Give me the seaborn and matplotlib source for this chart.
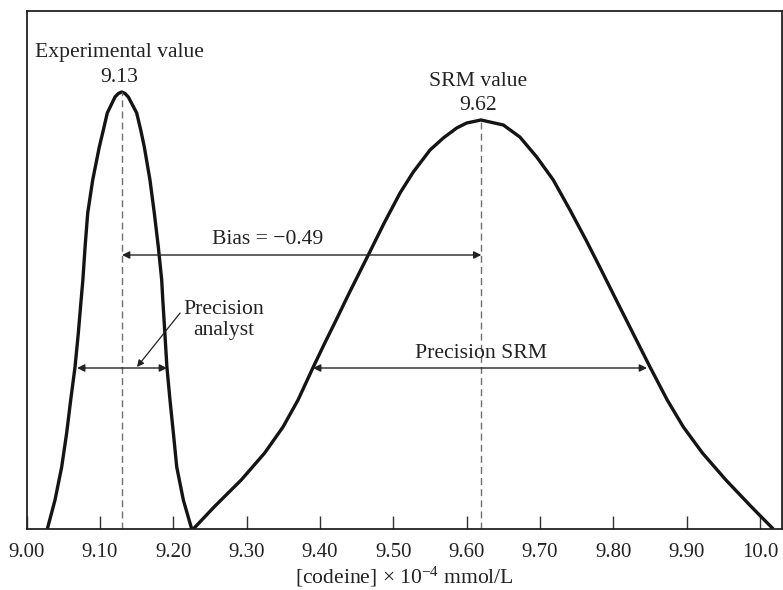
import numpy as np
import pandas as pd
import matplotlib
matplotlib.use("Agg")
import matplotlib.pyplot as plt
import seaborn as sns

# ---- data ----
exp_value = 9.13
srm_value = 9.62
bias = -0.49

exp_x = [9.0281, 9.0386, 9.0477, 9.0545, 9.0600, 9.0659, 9.0704, 9.0742, 9.0766,
         9.0796, 9.0832, 9.0900, 9.0990, 9.1045, 9.1099, 9.1204, 9.1250, 9.1296,
         9.1341, 9.1386, 9.1500, 9.1555, 9.1604, 9.1681, 9.1740, 9.1795, 9.1841,
         9.1856, 9.1884, 9.1912, 9.1954, 9.2000, 9.2046, 9.2136, 9.2250]
exp_y = [0, 29, 62, 96, 129, 162, 196, 229, 249,
         282, 316, 349, 382, 399, 416, 432, 435.5, 437,
         435.5, 432, 416, 399, 382, 349, 316, 282, 249,
         229, 196, 162, 129, 96, 62, 29, 0]

srm_x = [9.2272, 9.2555, 9.2925, 9.3245, 9.3495, 9.3700, 9.3908, 9.4065, 9.4220,
         9.4405, 9.4658, 9.4875, 9.5091, 9.5272, 9.5500, 9.5681, 9.5864, 9.6000,
         9.6195, 9.6500, 9.6725, 9.6955, 9.7181, 9.7409, 9.7627, 9.7835, 9.8060,
         9.8225, 9.8500, 9.8735, 9.8955, 9.9215, 9.9535, 9.9885, 10.0181]
srm_y = [0, 22, 49, 76, 102, 129, 162, 186, 209,
         237, 274, 306, 336, 357, 379, 391, 401, 406,
         409, 404, 392, 372, 349, 319, 289, 259, 226,
         202, 162, 129, 102, 76, 49, 22, 0]

tick_vals = [9.00, 9.10, 9.20, 9.30, 9.40, 9.50, 9.60, 9.70, 9.80, 9.90, 10.0]
tick_labels = ["9.00", "9.10", "9.20", "9.30", "9.40", "9.50", "9.60", "9.70",
               "9.80", "9.90", "10.0"]

prec_analyst = (9.0687, 9.1913)
prec_srm = (9.3905, 9.8459)

# ---- styling ----
sns.set_theme(style="white")
plt.rcParams['font.family'] = ['Liberation Serif', 'DejaVu Serif']
plt.rcParams['mathtext.default'] = 'regular'

fig = plt.figure(figsize=(7.83, 5.90), dpi=100)
ax = fig.add_axes([26.7 / 783, 61 / 590, (782 - 26.7) / 783, 518 / 590])

df_exp = pd.DataFrame({"x": exp_x, "y": exp_y})
df_srm = pd.DataFrame({"x": srm_x, "y": srm_y})
for d in (df_exp, df_srm):
    sns.lineplot(data=d, x="x", y="y", sort=False, estimator=None,
                 color="#141414", linewidth=2.4, ax=ax,
                 solid_joinstyle="round", solid_capstyle="butt")

ax.set_xlim(9.0, 10.03)
ax.set_ylim(0, 518)

# dashed centre lines
dash_kw = dict(color="#707070", linewidth=1.0, linestyle=(0, (5, 3)))
ax.plot([exp_value, exp_value], [0, max(exp_y)], **dash_kw)
ax.plot([srm_value, srm_value], [0, max(srm_y)], **dash_kw)

fs = 15.6
tc = "#222222"
ax.text(9.127, 476, "Experimental value", ha="center", va="center", fontsize=fs, color=tc)
ax.text(9.126, 451, f"{exp_value:.2f}", ha="center", va="center", fontsize=fs, color=tc)
ax.text(9.6156, 448, "SRM value", ha="center", va="center", fontsize=fs, color=tc)
ax.text(9.616, 424, f"{srm_value:.2f}", ha="center", va="center", fontsize=fs, color=tc)

arrow_kw = dict(arrowstyle="<|-|>", color=tc, lw=1.0, mutation_scale=11, shrinkA=0, shrinkB=0)
# bias arrow
ax.annotate("", xy=(srm_value, 274), xytext=(exp_value, 274), arrowprops=arrow_kw)
ax.text(9.328, 290, f"Bias = \u2212{abs(bias):.2f}",
        ha="center", va="center", fontsize=fs, color=tc)

# precision arrows
ax.annotate("", xy=(prec_analyst[1], 161), xytext=(prec_analyst[0], 161), arrowprops=arrow_kw)
ax.annotate("", xy=(prec_srm[1], 161), xytext=(prec_srm[0], 161), arrowprops=arrow_kw)
ax.text(9.619, 176, "Precision SRM", ha="center", va="center", fontsize=fs, color=tc)
ax.text(9.269, 209, "Precision\nanalyst", ha="center", va="center", fontsize=fs,
        color=tc, linespacing=1.2)
ax.annotate("", xy=(9.1504, 162), xytext=(9.2092, 216),
            arrowprops=dict(arrowstyle="-|>", color=tc, lw=0.9,
                            mutation_scale=10, shrinkA=0, shrinkB=0))

ax.set_xticks(tick_vals)
ax.set_xticklabels(tick_labels, fontsize=15, color=tc)
ax.set_yticks([])
ax.tick_params(axis="x", direction="in", length=9.4, width=1.0, color="#333333",
               pad=10, bottom=True)
ax.set_xlabel("[codeine] \u00d7 10$^{\u22124}$ mmol/L", fontsize=fs, color=tc, labelpad=2)
ax.set_ylabel("")
for s in ax.spines.values():
    s.set_visible(True)
    s.set_color(tc)
    s.set_linewidth(1.3)

fig.savefig("out.png", dpi=100)
